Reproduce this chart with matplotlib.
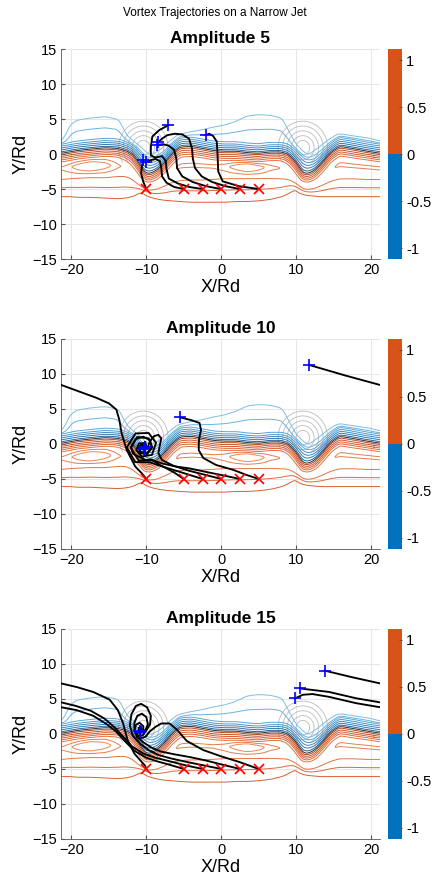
import numpy as np
import matplotlib as mpl
import matplotlib.pyplot as plt
from matplotlib.colors import ListedColormap, Normalize

plt.rcParams['font.family'] = ['Liberation Sans', 'DejaVu Sans']

nan = np.nan

# --- background jet: guide curves (X/Rd, Y/Rd) ---
gx = [-21.3, -20.8, -20.0, -19.2, -17.5, -15.5, -13.8, -12.8, -12.0, -11.3, -10.7, -10.2, -9.5, -8.6,
      -7.6, -6.6, -5.5, -4.0, -2.5, -1.0, 0.5, 2.0, 3.5, 5.0, 6.5, 8.0, 8.9, 9.7, 10.4, 10.9,
      11.6, 12.5, 13.5, 14.6, 15.8, 17.5, 19.5, 21.3]
red_out_y = [-6.0, -6.0, -6.0, -6.1, -6.1, -6.2, -6.3, -6.2, -6.0, -5.6, -5.3, -5.5, -6.0, -6.3, -6.5,
             -6.6, -6.7, -6.8, -6.8, -6.8, -6.8, -6.7, -6.7, -6.6, -6.4, -6.0, -5.5, -5.0, -5.2,
             -5.6, -5.8, -5.9, -6.0, -6.0, -6.0, -6.0, -6.0, -6.0]
red_mid_y = [-3.4, -3.35, -3.25, -3.2, -3.1, -3.1, -2.9, -2.9, -3.3, -4.0, -4.6, -5.0, -5.1, -4.9, -4.4,
             -3.8, -3.5, -3.4, -3.4, -3.3, -3.2, -3.2, -3.2, -3.2, -3.2, -3.3, -3.4, -3.9, -4.5,
             -4.9, -5.0, -4.8, -4.3, -3.7, -3.3, -3.3, -3.4, -3.4]
ridge_y = [-2.0, -1.95, -1.85, -1.8, -1.7, -1.6, -1.7, -1.8, -2.2, -3.0, -3.8, -4.4, -4.5, -4.2, -3.4,
           -2.4, -1.6, -1.5, -1.6, -1.7, -1.8, -1.8, -1.8, -1.9, -1.9, -2.0, -2.3, -3.0, -3.8,
           -4.4, -4.5, -4.2, -3.4, -2.2, -1.4, -1.6, -1.8, -2.0]
ridge_val = [1.5, 1.55, 1.7, 1.9, 2.2, 1.9, 1.5, 1.4, 1.35, 1.35, 1.35, 1.35, 1.35, 1.35, 1.4,
             1.45, 1.5, 1.5, 1.5, 1.5, 1.6, 1.9, 2.2, 1.9, 1.55, 1.45, 1.4, 1.35, 1.35,
             1.35, 1.35, 1.35, 1.4, 1.45, 1.5, 1.5, 1.5, 1.5]
band_bot_y = [-1.1, -1.0, -0.85, -0.7, -0.5, -0.3, -0.4, -0.8, -1.4, -2.3, -3.2, -3.9, -4.0, -3.6, -2.6,
              -1.4, -0.4, -0.3, -0.5, -0.8, -0.9, -0.9, -1.0, -1.1, -0.9, -0.9, -1.3, -2.2, -3.2,
              -3.9, -4.0, -3.6, -2.5, -1.1, -0.2, -0.5, -0.8, -1.1]
core_y = [0.1, 0.2, 0.35, 0.5, 0.7, 0.9, 0.8, 0.5, 0.1, -0.8, -1.9, -2.7, -2.8, -2.3, -1.3, 0.0, 1.0,
          1.1, 0.8, 0.5, 0.4, 0.4, 0.2, 0.1, 0.3, 0.3, 0.0, -0.8, -1.9, -2.7, -2.8, -2.3, -1.2,
          0.2, 1.1, 0.8, 0.4, 0.1]
band_top_y = [1.4, 1.5, 1.65, 1.8, 2.0, 2.2, 2.1, 1.8, 1.4, 0.8, 0.1, -0.5, -0.9, -0.7, 0.1, 1.3, 2.3,
              2.4, 2.1, 1.8, 1.7, 1.7, 1.5, 1.4, 1.6, 1.6, 1.4, 0.8, 0.1, -0.5, -0.9, -0.7, 0.2,
              1.5, 2.4, 2.1, 1.7, 1.4]
outer_y = [1.7, 2.2, 4.2, 4.8, 5.1, 5.3, 4.9, 2.6, 1.8, 1.2, 0.6, 0.1, -0.2, 0.1, 0.8, 1.8, 2.7, 3.1,
           3.4, 3.8, 4.1, 4.6, 5.4, 5.6, 5.5, 5.1, 3.2, 1.4, 0.6, 0.1, -0.2, 0.3, 1.1, 2.0, 2.8,
           2.5, 2.2, 1.7]

# contour levels and colours
blue_levels = [-1.6, -1.4, -1.2, -0.95, -0.7, -0.45, -0.2]
blue_colors = ['#7cbfe6', '#6ab2de', '#5aa5d6', '#4b97cc', '#3e89c0', '#3379b0', '#2b6294']
red_levels = [0.2, 0.45, 0.7, 0.95, 1.2, 1.45, 1.7]
red_colors = ['#b8481f', '#cf5428', '#d95f30', '#df6a3a', '#e27444', '#e57e4e', '#e88858']

# grey vortex rings
vortex_x = [-10.4, 10.9]
vortex_y = [0.9, 0.9]
vortex_r = [0.9, 1.5, 2.1, 2.7, 3.3]

# trajectories (nan = wrap through the periodic x boundary)
amp5_x = [[-10, -10.4, -10.7, -10.6, -10.4],
          [-5, -6.3, -7.3, -7.9, -8.0, -8.2, -8.8, -9.5, -10.0],
          [-2.5, -4.3, -5.8, -7.0, -7.3, -7.4, -7.9, -8.8, -9.4, -9.4, -9.2, -8.3, -7.1],
          [0, -2.0, -3.8, -5.2, -5.9, -6.0, -6.3, -7.0, -7.8, -8.6],
          [2.5, 0.6, -1.2, -2.6, -3.5, -3.8, -3.9, -4.3, -5.2, -6.2, -7.2, -7.9, -8.4],
          [5, 2.4, 0.2, -0.4, -0.5, -0.6, -1.1, -1.6, -2.1]]
amp5_y = [[-5, -4.0, -2.8, -1.8, -0.9],
          [-5, -4.7, -4.1, -3.2, -2.0, -1.0, -0.7, -0.9, -1.2],
          [-5, -4.7, -4.2, -3.5, -2.2, -1.0, -0.3, -0.5, -0.2, 1.0, 2.5, 3.4, 4.1],
          [-5, -4.6, -4.0, -3.2, -2.0, -0.6, 0.6, 1.2, 1.4, 1.3],
          [-5, -4.6, -4.0, -3.2, -2.0, -0.6, 0.8, 2.2, 2.8, 2.9, 2.7, 2.2, 1.7],
          [-5, -4.6, -3.9, -2.5, 0.1, 1.8, 2.6, 2.9, 2.7]]

amp10_x = [[-10, -10.6, -11.5, -12.6, -13.3, -13.6, -14.0, -15.0, -16.7, -19.0, -21.3, nan, 21.3, 16.5, 11.7],
           [-5, -6.4, -8.2, -9.3, -11.0, -12.1, -11.2, -9.7, -9.2, -9.9, -10.8, -11.0, -10.4, -10.1, -10.3],
           [-2.5, -4.3, -6.4, -8.2, -9.6, -11.5, -12.6, -11.45, -9.7, -8.7, -9.25, -10.6, -11.34, -11.0, -10.1, -10.0, -10.3],
           [0, -2.2, -4.4, -6.4, -7.9, -8.4, -8.2, -8.0, -8.4, -9.0, -9.5, -9.8, -10.3, -10.8, -10.7, -10.3, -10.2],
           [2.5, 0.3, -2.0, -4.2, -6.2, -7.8, -9.0, -10.1, -11.8, -12.0, -11.46, -10.4, -9.48, -9.3, -9.95, -10.85, -10.87, -10.2, -10.2],
           [5, 3.3, 1.6, -0.7, -2.4, -3.0, -3.0, -2.9, -2.7, -2.9, -4.0, -5.5]]
amp10_y = [[-5, -4.2, -3.2, -0.9, 1.5, 3.4, 4.9, 5.8, 6.6, 7.5, 8.4, nan, 8.4, 9.8, 11.3],
           [-5, -4.0, -3.0, -2.2, -2.4, -0.5, 1.0, 0.8, -0.5, -1.45, -1.26, -0.5, 0.0, -0.5, -0.6],
           [-5, -4.4, -3.7, -3.1, -2.6, -2.6, -0.5, 1.5, 1.57, 0.18, -1.56, -1.8, -0.88, 0.07, 0.13, -0.65, -0.7],
           [-5, -4.4, -3.8, -3.1, -2.3, -1.3, -0.2, 0.8, 1.3, 1.1, 0.4, -0.4, -0.8, -0.5, 0.0, -0.1, -0.5],
           [-5, -4.5, -4.0, -3.5, -3.2, -2.8, -2.4, -2.3, -1.38, -0.5, 0.67, 1.04, 0.51, -0.5, -1.36, -1.09, -0.31, -0.17, -0.5],
           [-5, -4.4, -3.7, -3.0, -2.0, -0.9, 0.2, 1.0, 2.0, 3.0, 3.4, 3.8]]

amp15_x = [[-10, -10.2, -11.6, -12.5, -13.1, -13.8, -14.9, -17.1, -19.3, -21.3, nan, 21.3, 17.5, 13.8],
           [-5, -6.9, -8.6, -10.0, -11.6, -12.8, -14.0, -15.3, -17.1, -19.3, -21.3, nan, 21.3, 18.0, 14.4, 12.2, 10.9, 9.9],
           [-2.5, -4.7, -6.9, -8.8, -10.4, -11.9, -13.0, -14.2, -15.6, -17.4, -19.4, -21.3, nan, 21.3, 18.0, 14.4, 11.3, 10.5],
           [0, -2.3, -4.6, -6.7, -8.4, -9.7, -10.8, -11.8, -12.2, -12.0, -11.4, -10.7, -9.9, -9.4, -9.5, -10.0, -10.5, -11.2, -11.6, -11.4, -10.9, -10.4, -10.4, -10.8],
           [2.5, 0.2, -2.0, -4.2, -6.3, -8.1, -9.4, -10.4, -11.2, -11.6, -11.6, -11.2, -10.6, -10.0, -9.8, -10.1, -10.6, -11.0, -11.0, -10.7, -10.6, -10.9],
           [5, 2.4, 0.0, -2.4, -4.6, -5.9, -6.9, -8.0, -8.8, -9.6, -10.1, -10.7, -11.2, -11.1, -10.8]]
amp15_y = [[-5, -4.5, -2.8, -0.9, 1.5, 3.4, 4.9, 6.0, 6.7, 7.2, nan, 7.2, 8.1, 9.05],
           [-5, -4.4, -3.9, -3.4, -2.4, -1.1, 0.3, 1.4, 2.6, 3.4, 3.8, nan, 3.8, 4.4, 5.3, 5.7, 5.6, 5.1],
           [-5, -4.5, -3.9, -3.4, -2.8, -1.8, -0.5, 0.9, 2.2, 3.3, 4.0, 4.5, nan, 4.5, 5.1, 6.0, 6.4, 6.5],
           [-5, -4.5, -4.0, -3.5, -3.0, -2.3, -1.4, -0.3, 1.2, 2.8, 4.0, 4.3, 3.8, 2.6, 1.4, 0.5, -0.2, -0.3, 0.4, 1.3, 1.6, 1.1, 0.5, 0.3],
           [-5, -4.4, -3.8, -3.3, -2.9, -2.5, -1.9, -1.2, -0.5, 0.5, 1.6, 2.6, 2.9, 2.4, 1.4, 0.6, 0.2, 0.4, 0.9, 1.0, 0.6, 0.4],
           [-5, -4.0, -3.2, -2.3, -1.0, 0.6, 1.5, 1.5, 1.0, 0.3, -0.4, -0.6, -0.2, 0.3, 0.3]]

panels = [('Amplitude 5', amp5_x, amp5_y),
          ('Amplitude 10', amp10_x, amp10_y),
          ('Amplitude 15', amp15_x, amp15_y)]

# ---- build the background field from the guide curves ----
period = 42.6
xs = np.linspace(-21.3, 21.3, 427)
ys = np.linspace(-15.5, 15.5, 621)


def along_x(v):
    return np.interp(xs, gx[:-1], v[:-1], period=period)


guides = [along_x(v) for v in (red_out_y, red_mid_y, ridge_y, band_bot_y, core_y, band_top_y, outer_y)]
rv = along_x(ridge_val)
F = np.empty((len(ys), len(xs)))
for i in range(len(xs)):
    gy = [-16] + [g[i] for g in guides] + [16]
    gv = [0.6, 0.7, 1.25, rv[i], 1.2, 0.0, -1.2, -1.6, -2.0]
    F[:, i] = np.interp(ys, gy, gv)


def smooth(a, sig, axis, mode):
    n = int(3 * sig) + 1
    k = np.exp(-0.5 * (np.arange(-n, n + 1) / sig) ** 2)
    k /= k.sum()
    return np.apply_along_axis(lambda r: np.convolve(np.pad(r, n, mode=mode), k, mode='valid'), axis, a)


F = smooth(F, 2.5, 1, 'wrap')
F = smooth(F, 1.5, 0, 'edge')

X, Y = np.meshgrid(xs, ys)
D = np.min([np.hypot(X - vx, (Y - vy) / 1.15) for vx, vy in zip(vortex_x, vortex_y)], axis=0)
D = np.where(Y < -1.2, np.nan, D)

levels = blue_levels + [0.0] + red_levels
lcolors = blue_colors + ['#26303f'] + red_colors

fig = plt.figure(figsize=(4.35, 8.82), dpi=100)
fig.text(0.494, 1 - 13 / 882, 'Vortex Trajectories on a Narrow Jet', ha='center', va='center', fontsize=8.5)

bottoms = [0.7063, 0.3776, 0.0488]
cmap = ListedColormap(['#0072BD', '#D95319'])

for (title, tx, ty), b in zip(panels, bottoms):
    ax = fig.add_axes([0.1402, b, 0.7333, 0.2381])
    ax.contour(xs, ys, D, levels=vortex_r, colors='#b0b0b0', linewidths=0.6, alpha=0.85, zorder=1)
    ax.contour(xs, ys, F, levels=levels, colors=lcolors, linewidths=0.7, zorder=2)
    for x, y in zip(tx, ty):
        ax.plot(x, y, color='black', lw=1.35, zorder=3)
    for x, y in zip(tx, ty):
        ax.plot(x[0], y[0], 'x', color='red', ms=6.5, mew=1.2, zorder=4)
        ax.plot(x[-1], y[-1], '+', color='blue', ms=8.5, mew=1.2, zorder=5)
    ax.set_xlim(-21.4, 21.2)
    ax.set_ylim(-15, 15)
    ax.set_xticks([-20, -10, 0, 10, 20])
    ax.set_yticks([-15, -10, -5, 0, 5, 10, 15])
    ax.grid(True, color='#e2e2e2', lw=0.6)
    ax.set_axisbelow(True)
    for s in ['top', 'right']:
        ax.spines[s].set_visible(False)
    for s in ['left', 'bottom']:
        ax.spines[s].set_color('#555555')
        ax.spines[s].set_linewidth(0.6)
    ax.tick_params(direction='in', length=3, labelsize=10.5, color='#555555', pad=3)
    ax.set_xlabel('X/Rd', fontsize=13, labelpad=1)
    ax.set_ylabel('Y/Rd', fontsize=13, labelpad=2)
    ax.set_title(title, fontsize=12.5, fontweight='bold', pad=4)

    cax = fig.add_axes([0.892, b, 0.0322, 0.2381])
    cb = mpl.colorbar.ColorbarBase(cax, cmap=cmap, norm=Normalize(-1.117, 1.117))
    cb.set_ticks([-1, -0.5, 0, 0.5, 1])
    cb.set_ticklabels(['-1', '-0.5', '0', '0.5', '1'])
    cb.outline.set_visible(False)
    cax.tick_params(direction='in', length=2, labelsize=10.5, color='#555555', pad=3)

fig.savefig('out.png', dpi=100)
